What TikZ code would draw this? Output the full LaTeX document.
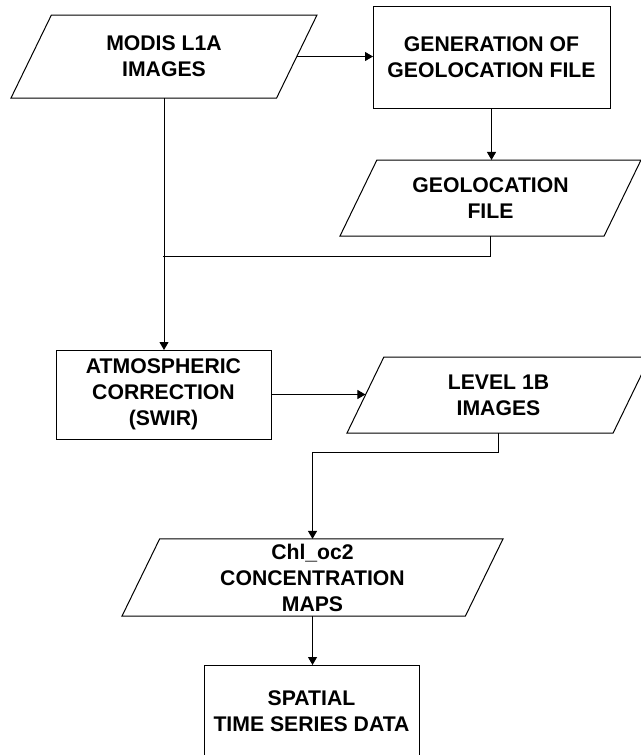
\documentclass[tikz,border=0pt]{standalone}
\usepackage{fontspec}
\setmainfont{Liberation Sans}
\usepackage{tikz}
\usetikzlibrary{shapes.geometric,arrows.meta}

\begin{document}
\begin{tikzpicture}[
  x=0.5pt, y=-0.5pt,
  every node/.style={font=\bfseries\fontsize{10.6}{13}\selectfont, align=center, inner sep=0pt, outer sep=0pt},
  databox/.style={draw, line width=0.5pt, shape=trapezium, trapezium left angle=64, trapezium right angle=116, trapezium stretches body},
  procbox/.style={draw, line width=0.5pt, rectangle},
  arr/.style={-{Triangle[length=4pt,width=4.5pt]}, line width=0.5pt},
  lnk/.style={line width=0.5pt}
]
\useasboundingbox (0,0) rectangle (641,755);
\clip (0,0) rectangle (641,755);

% inputs
\node[databox, inner ysep=10.45pt, minimum width=153pt, minimum height=41.5pt] (modis) at (164,56.5) {MODIS L1A\\IMAGES};
\node[procbox, minimum width=118.5pt, minimum height=51pt] (gen) at (491.5,57) {GENERATION OF\\GEOLOCATION FILE};
\node[databox, inner ysep=8.7pt, minimum width=150.5pt, minimum height=38pt] (geo) at (490.5,198) {GEOLOCATION\\FILE};
\coordinate (join) at (163,256);

% processing
\node[procbox, minimum width=107.5pt, minimum height=44.5pt] (atm) at (163.5,394.5) {ATMOSPHERIC\\CORRECTION\\(SWIR)};
\node[databox, inner ysep=8.7pt, minimum width=151.5pt, minimum height=38pt] (lvl) at (498.5,395) {LEVEL 1B\\IMAGES};

% products
\node[databox, inner ysep=2.4pt, minimum width=190.5pt, minimum height=38.5pt] (chl) at (312.5,577.5) {Chl\_oc2\\CONCENTRATION\\MAPS};
\node[procbox, minimum width=107.5pt, minimum height=46.5pt] (sts) at (311.5,711.5) {SPATIAL\\TIME SERIES DATA};

\draw[arr] (modis.east) -- (modis.east -| gen.west);
\draw[arr] (gen.south) -- (gen.south |- geo.north);
\draw[lnk] (geo.south) |- (join);
\draw[arr] (modis.south) -- (modis.south |- atm.north);
\draw[arr] (atm.east) -- (atm.east -| lvl.west);
\draw[arr] (lvl.south) -- ++(0,19) -| (chl.north);
\draw[arr] (chl.south) -- (chl.south |- sts.north);
\end{tikzpicture}
\end{document}
